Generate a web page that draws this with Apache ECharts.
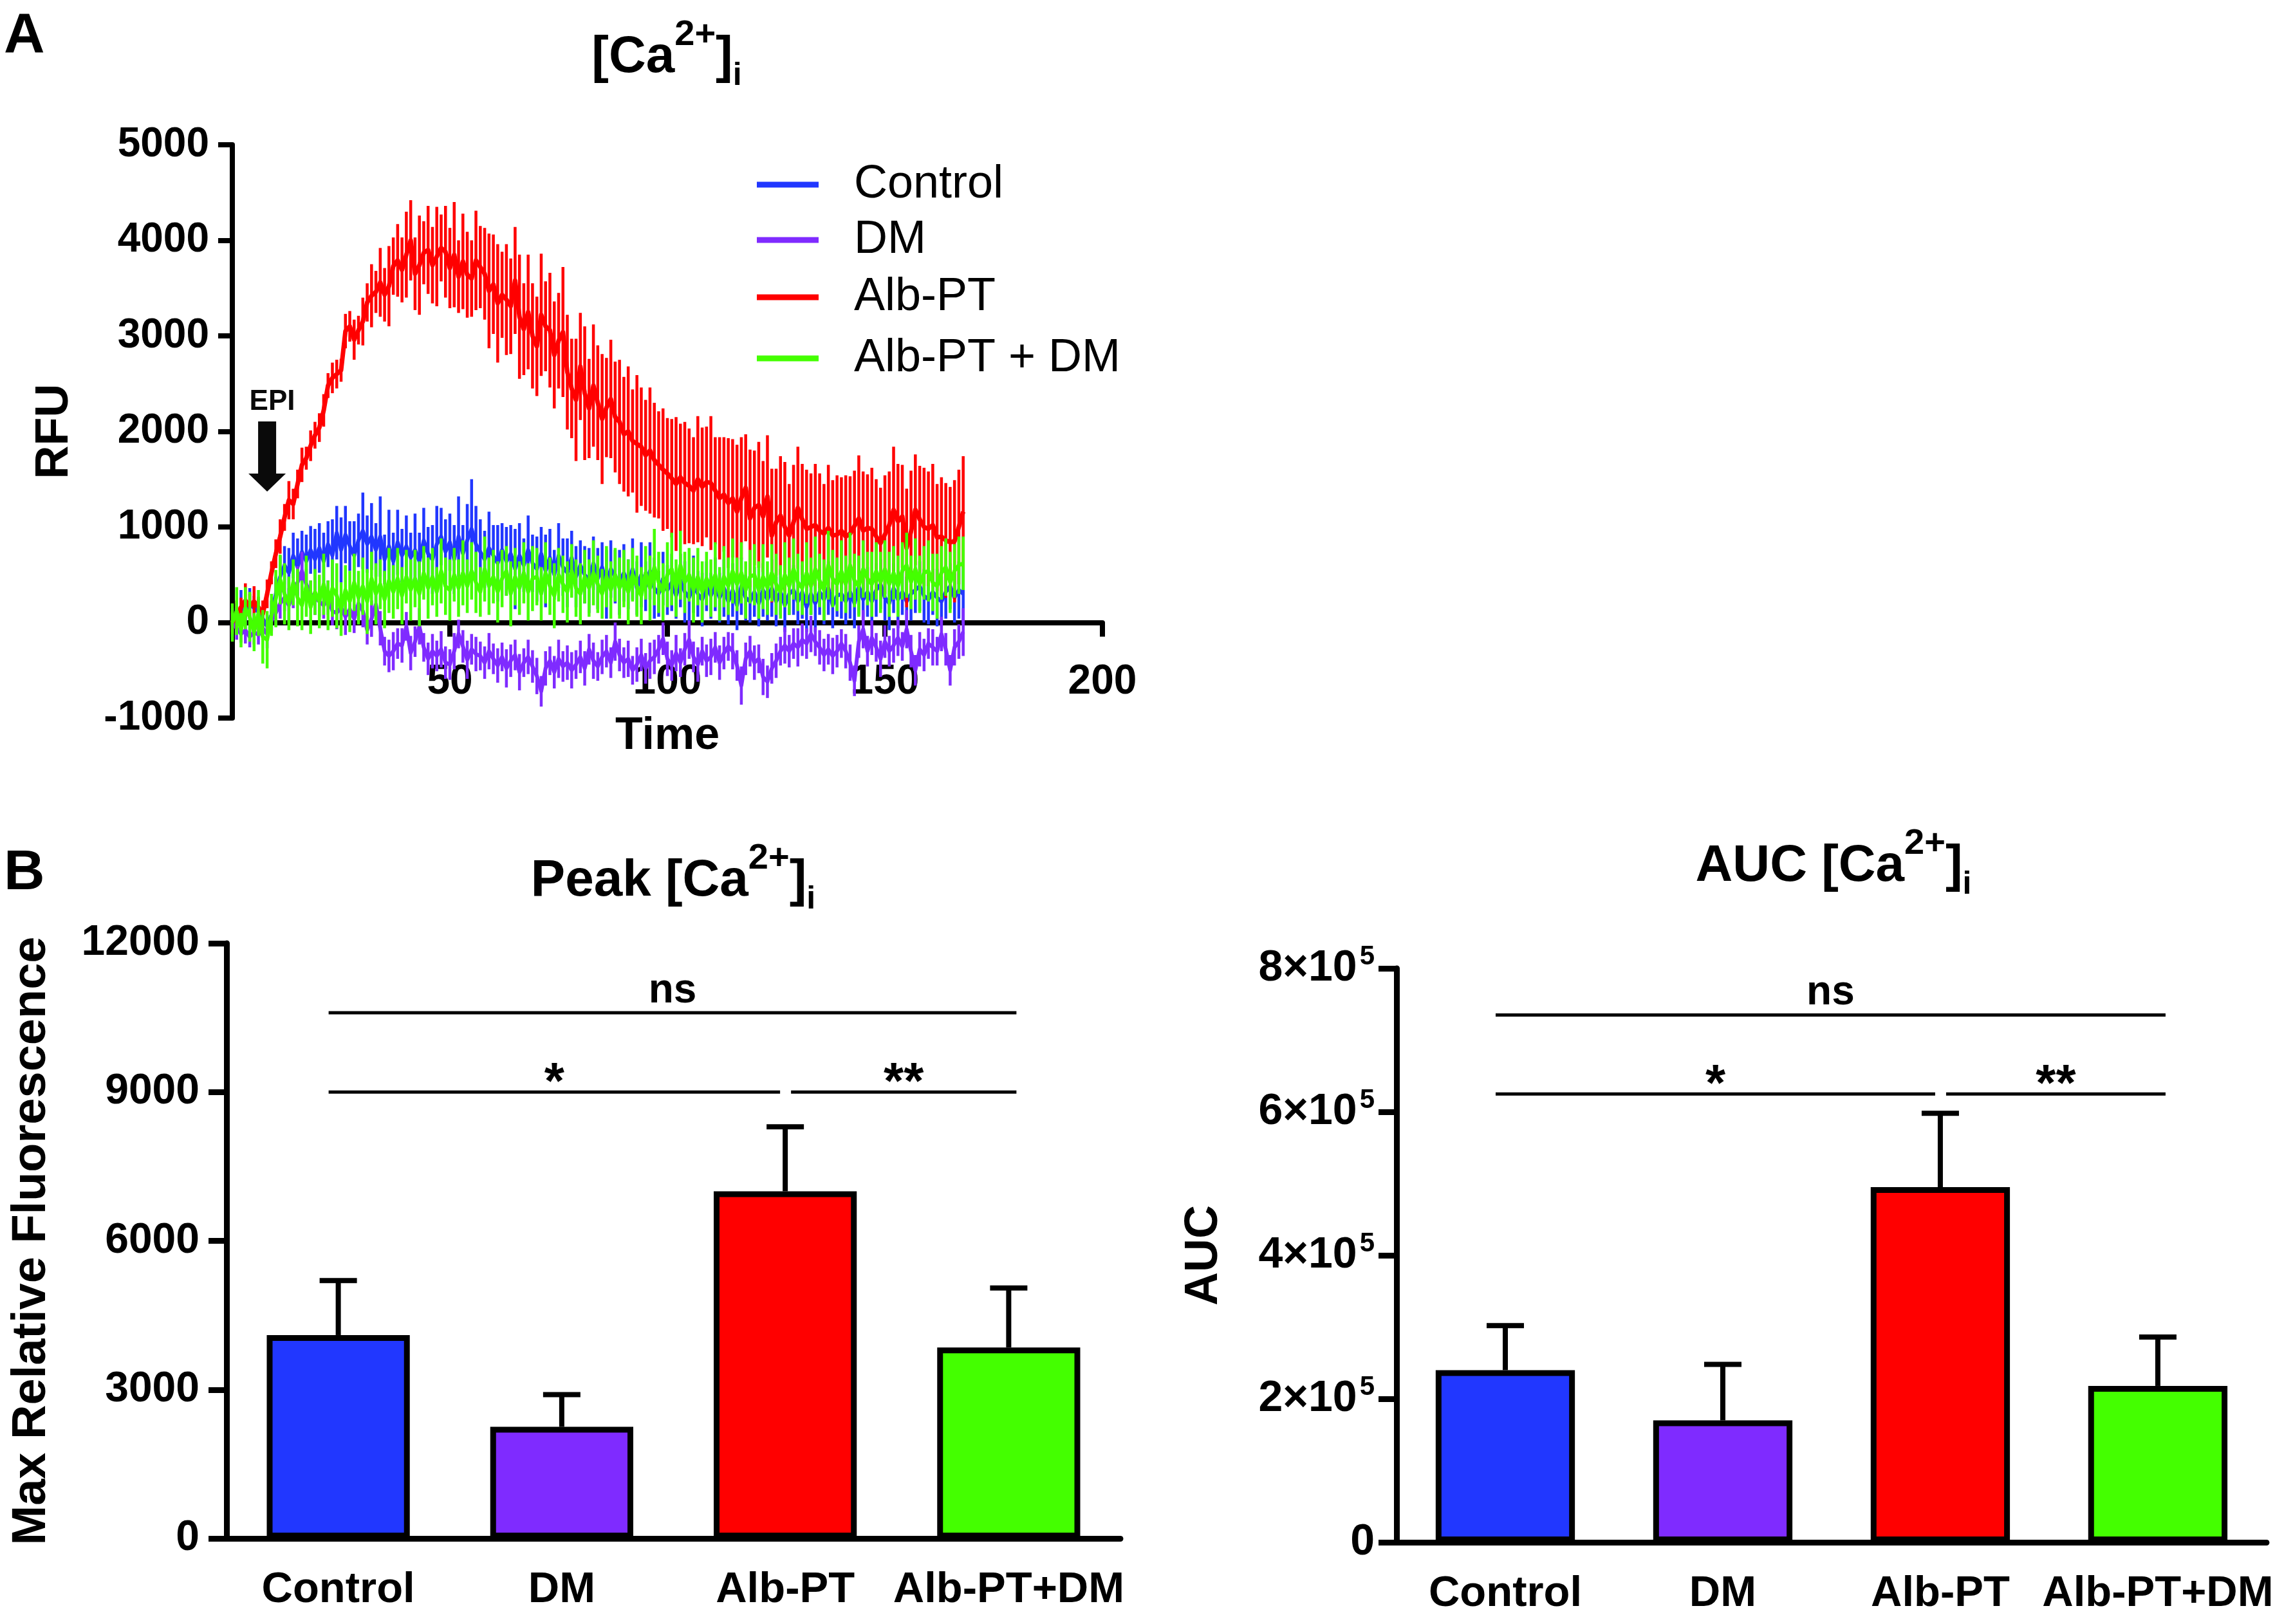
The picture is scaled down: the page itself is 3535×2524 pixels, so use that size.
<!DOCTYPE html>
<html>
<head>
<meta charset="utf-8">
<title>[Ca2+]i response</title>
<script src="https://cdn.jsdelivr.net/npm/echarts@6/dist/echarts.min.js"></script>
<style>
  html, body { margin: 0; padding: 0; background: #fff; }
  #chart { width: 3535px; height: 2524px; }
</style>
</head>
<body>
<div id="chart"></div>
<script>
// ---------- panel A: [Ca2+]i trace, one reading per second ----------
const timeStep = 1
const epiTime = 8        // EPI added here
const epiArrowLevel = 1370

const controlMean = [0, 80, 160, 120, 200, 150, 110, 40, -40, 80,
  300, 480, 600, 520, 700, 580, 740, 640, 760, 660,
  780, 640, 820, 700, 940, 760, 920, 800, 700, 860,
  960, 820, 900, 760, 900, 660, 800, 640, 840, 700,
  800, 680, 760, 640, 860, 720, 660, 820, 900, 740,
  840, 660, 900, 720, 860, 980, 820, 740, 660, 780,
  700, 620, 760, 640, 720, 560, 700, 600, 760, 620,
  560, 720, 540, 680, 500, 700, 580, 520, 680, 480,
  600, 500, 440, 620, 460, 580, 400, 560, 480, 420,
  520, 400, 560, 360, 500, 380, 540, 360, 300, 460,
  340, 420, 280, 440, 320, 260, 400, 300, 240, 380,
  280, 400, 260, 360, 220, 340, 180, 380, 260, 220,
  320, 200, 340, 240, 360, 220, 320, 180, 300, 340,
  220, 320, 160, 300, 200, 320, 240, 360, 180, 280,
  300, 220, 320, 200, 380, 240, 320, 220, 340, 400,
  260, 200, 360, 240, 320, 220, 300, 340, 380, 280,
  240, 320, 260, 220, 320, 380, 260, 340, 300]
const controlErr = [150, 120, 180, 100, 160, 130, 140, 110, 120, 150,
  180, 220, 200, 260, 240, 300, 220, 280, 250, 320,
  260, 300, 240, 380, 280, 340, 300, 260, 360, 280,
  400, 300, 350, 280, 420, 260, 380, 300, 340, 280,
  320, 260, 380, 300, 340, 280, 360, 400, 300, 340,
  300, 360, 420, 300, 380, 520, 400, 340, 300, 380,
  320, 400, 280, 360, 300, 420, 340, 280, 360, 300,
  340, 280, 380, 300, 260, 340, 300, 360, 280, 320,
  260, 300, 340, 280, 320, 260, 360, 300, 280, 340,
  300, 260, 320, 280, 340, 260, 300, 320, 240, 280,
  260, 300, 240, 280, 320, 260, 300, 240, 280, 260,
  240, 280, 260, 300, 240, 280, 260, 300, 240, 220,
  260, 240, 280, 220, 300, 260, 240, 280, 220, 260,
  240, 280, 260, 220, 300, 240, 260, 280, 240, 220,
  260, 240, 280, 260, 300, 220, 260, 240, 280, 260,
  240, 280, 260, 300, 240, 260, 280, 240, 260, 280,
  260, 240, 300, 260, 280, 240, 260, 300, 320]

const dmMean = [0, -60, -120, -80, -150, -100, -130, -60, -120, 20,
  100, 200, 260, 180, 300, 420, 540, 400, 300, 260,
  220, 180, 260, 120, 100, 160, 60, 140, 40, 200,
  120, -80, 40, 190, -60, -300, -350, -300, -220, -240,
  -40, -320, -200, -40, -260, -380, -300, -350, -280, -420,
  -440, -300, -120, -250, -390, -280, -330, -350, -420, -300,
  -380, -450, -360, -480, -400, -340, -520, -420, -360, -460,
  -560, -720, -480, -400, -520, -380, -460, -420, -500, -440,
  -360, -480, -280, -400, -460, -360, -300, -420, -200, -340,
  -420, -380, -500, -440, -340, -480, -400, -360, -280, -170,
  -380, -450, -320, -420, -280, -180, -360, -440, -300, -400,
  -360, -260, -420, -320, -250, -300, -450, -660, -380, -300,
  -420, -380, -570, -620, -480, -400, -300, -240, -300, -220,
  -260, -180, -220, -120, -200, -260, -340, -280, -350, -300,
  -220, -300, -420, -610, -200, -70, -300, -160, -260, -380,
  -200, -300, -240, -160, -250, -70, -300, -500, -280, -340,
  -220, -260, -300, -120, -280, -500, -260, -200, -100]
const dmErr = [100, 120, 90, 140, 110, 130, 100, 120, 150, 110,
  130, 160, 140, 180, 150, 170, 200, 160, 140, 180,
  160, 140, 180, 150, 170, 140, 190, 160, 150, 180,
  170, 150, 190, 160, 180, 150, 170, 200, 160, 180,
  150, 180, 160, 190, 150, 170, 180, 160, 190, 170,
  160, 190, 150, 170, 200, 160, 180, 150, 170, 190,
  160, 180, 150, 200, 170, 160, 190, 150, 180, 170,
  190, 160, 180, 150, 170, 200, 160, 180, 190, 150,
  170, 180, 160, 190, 150, 180, 170, 160, 200, 170,
  160, 190, 150, 180, 170, 160, 190, 180, 150, 170,
  180, 160, 190, 150, 170, 200, 160, 180, 150, 170,
  190, 160, 180, 170, 150, 190, 160, 200, 170, 160,
  180, 150, 190, 170, 160, 180, 150, 190, 170, 160,
  200, 170, 160, 190, 150, 180, 170, 160, 190, 170,
  150, 180, 190, 160, 170, 200, 160, 180, 150, 190,
  170, 160, 180, 190, 150, 200, 170, 160, 180, 170,
  160, 190, 150, 180, 170, 160, 190, 180, 250]

const albMean = [0, 80, 160, 230, 170, 220, 160, 90, 300, 520,
  720, 900, 1100, 1280, 1240, 1450, 1650, 1720, 1850, 1960,
  2040, 2220, 2480, 2560, 2600, 2640, 3050, 3100, 2960, 3060,
  3150, 3350, 3420, 3460, 3560, 3430, 3520, 3730, 3790, 3690,
  3850, 4000, 3650, 3740, 3870, 3900, 3740, 3830, 3920, 3880,
  3710, 3850, 3620, 3780, 3640, 3600, 3790, 3720, 3650, 3470,
  3540, 3340, 3430, 3380, 3310, 3580, 3200, 3070, 3250, 3000,
  2890, 3220, 3100, 3060, 2800, 2950, 3040, 2620, 2450, 2330,
  2680, 2400, 2240, 2480, 2300, 2130, 2250, 2340, 2150, 2100,
  1970, 2000, 1900, 1870, 1840, 1750, 1800, 1700, 1650, 1600,
  1560, 1510, 1450, 1520, 1460, 1430, 1380, 1500, 1420, 1470,
  1460, 1380, 1300, 1340, 1250, 1300, 1160, 1300, 1410, 1090,
  1200, 1230, 1110, 1320, 910, 1050, 1120, 1000, 910, 1050,
  1200, 1080, 980, 1000, 1020, 960, 930, 990, 910, 920,
  960, 900, 930, 1010, 1090, 960, 990, 980, 900, 830,
  920, 1020, 1180, 1060, 1110, 780, 950, 1180, 1080, 1000,
  980, 1020, 890, 900, 860, 840, 850, 1000, 1160]
const albErr = [120, 150, 100, 180, 130, 160, 110, 140, 150, 120,
  150, 180, 140, 200, 160, 150, 180, 120, 160, 140,
  150, 170, 130, 160, 150, 120, 180, 160, 210, 150,
  250, 200, 330, 220, 360, 280, 420, 300, 380, 340,
  450, 420, 380, 520, 330, 460, 400, 520, 350, 480,
  420, 550, 380, 500, 450, 400, 520, 430, 480, 600,
  520, 620, 450, 580, 500, 560, 650, 480, 600, 550,
  520, 640, 470, 600, 560, 500, 680, 600, 520, 640,
  560, 700, 520, 640, 600, 680, 520, 620, 580, 650,
  600, 680, 540, 720, 620, 580, 660, 600, 560, 640,
  580, 620, 700, 560, 640, 600, 560, 660, 620, 580,
  700, 560, 640, 600, 680, 620, 700, 640, 560, 720,
  600, 660, 580, 640, 700, 560, 620, 680, 540, 600,
  640, 580, 620, 560, 640, 600, 520, 660, 580, 620,
  560, 640, 600, 580, 660, 620, 560, 640, 600, 580,
  620, 560, 660, 600, 540, 620, 640, 580, 560, 620,
  600, 640, 560, 620, 600, 580, 640, 600, 580]

const albDmMean = [0, 120, -80, 150, 60, -100, 100, -150, -180, 80,
  250, 450, 300, 200, 420, 260, 180, 380, 160, 320,
  220, 400, 180, 360, 280, 140, 340, 220, 420, 260,
  380, 220, 460, 300, 400, 240, 440, 320, 460, 280,
  480, 340, 460, 300, 520, 360, 480, 320, 540, 380,
  340, 500, 360, 520, 380, 540, 420, 320, 560, 380,
  480, 320, 460, 540, 300, 480, 360, 520, 320, 460,
  480, 300, 520, 380, 280, 500, 400, 320, 540, 360,
  300, 480, 360, 520, 400, 300, 480, 340, 500, 360,
  460, 320, 500, 380, 280, 520, 360, 580, 420, 320,
  500, 560, 360, 600, 420, 500, 340, 480, 320, 460,
  360, 500, 300, 480, 380, 540, 400, 520, 340, 480,
  500, 340, 480, 360, 520, 400, 320, 500, 380, 560,
  420, 360, 520, 380, 560, 440, 340, 600, 460, 400,
  540, 400, 600, 440, 380, 560, 460, 400, 540, 420,
  560, 400, 520, 380, 540, 600, 420, 560, 400, 520,
  540, 420, 380, 520, 580, 420, 540, 600, 620]
const albDmErr = [200, 250, 180, 220, 260, 200, 240, 280, 300, 220,
  300, 260, 320, 280, 240, 300, 260, 320, 280, 240,
  280, 320, 260, 300, 340, 280, 260, 320, 300, 280,
  300, 340, 280, 320, 260, 300, 340, 280, 320, 300,
  280, 320, 300, 340, 280, 320, 300, 260, 340, 300,
  320, 280, 300, 340, 280, 300, 320, 260, 340, 300,
  280, 320, 300, 260, 340, 300, 280, 320, 300, 340,
  300, 280, 320, 300, 340, 280, 300, 320, 280, 300,
  320, 280, 300, 340, 300, 260, 320, 300, 280, 320,
  300, 340, 280, 320, 300, 280, 340, 400, 320, 300,
  340, 380, 300, 360, 320, 280, 340, 300, 320, 280,
  300, 340, 280, 320, 300, 340, 280, 320, 300, 280,
  320, 300, 340, 280, 300, 320, 280, 340, 300, 320,
  300, 280, 320, 300, 340, 280, 320, 360, 300, 280,
  320, 300, 340, 280, 320, 300, 280, 340, 300, 320,
  300, 340, 280, 320, 300, 340, 280, 320, 300, 280,
  320, 300, 340, 280, 300, 320, 280, 300, 280]

// ---------- panel B: summary bars (mean + SEM) ----------
const groups = ['Control', 'DM', 'Alb-PT', 'Alb-PT+DM']
const peakMean = [4100, 2250, 7000, 3850]
const peakErr = [1100, 650, 1300, 1200]
const aucMean = [240000, 170000, 495000, 218000]
const aucErr = [62000, 78000, 103000, 68000]
const peakSig = [
  {from: 0, to: 3, level: 10600, label: 'ns'},
  {from: 0, to: 2, level: 9000, label: '*'},
  {from: 2, to: 3, level: 9000, label: '**'}
]
const aucSig = [
  {from: 0, to: 3, level: 735000, label: 'ns'},
  {from: 0, to: 2, level: 625000, label: '*'},
  {from: 2, to: 3, level: 625000, label: '**'}
]

const FONT = '"Liberation Sans", Arial, Helvetica, sans-serif'
const BLUE = '#2137ff', PURPLE = '#7f2bff', RED = '#ff0000', GREEN = '#44ff00'
const groupColors = [BLUE, PURPLE, RED, GREEN]

const traces = [
  {name: 'Control', mean: controlMean, err: controlErr, color: BLUE, width: 6},
  {name: 'DM', mean: dmMean, err: dmErr, color: PURPLE, width: 6},
  {name: 'Alb-PT', mean: albMean, err: albErr, color: RED, width: 7},
  {name: 'Alb-PT + DM', mean: albDmMean, err: albDmErr, color: GREEN, width: 6}
]
const legendRows = [287, 373, 462, 557]

let myChart = echarts.init(document.getElementById('chart'))

function renderSpike(params, api) {
  const lo = api.coord([api.value(0), api.value(1)])
  const hi = api.coord([api.value(0), api.value(2)])
  return {
    type: 'line',
    shape: {x1: lo[0], y1: lo[1], x2: hi[0], y2: hi[1]},
    style: {stroke: api.visual('color'), lineWidth: 4.5}
  }
}

function renderBarErr(params, api) {
  const base = api.coord([api.value(0), api.value(1)])
  const top = api.coord([api.value(0), api.value(2)])
  return {
    type: 'group',
    children: [
      {type: 'line', shape: {x1: base[0], y1: base[1], x2: top[0], y2: top[1]}, style: {stroke: '#000', lineWidth: 8}},
      {type: 'line', shape: {x1: top[0] - 29, y1: top[1], x2: top[0] + 29, y2: top[1]}, style: {stroke: '#000', lineWidth: 8}}
    ]
  }
}

function renderEpi(params, api) {
  const tip = api.coord([api.value(0), api.value(1)])
  return {
    type: 'group',
    children: [
      {type: 'rect', shape: {x: tip[0] - 14, y: tip[1] - 109, width: 28, height: 83}, style: {fill: '#0a0a0a'}},
      {type: 'polygon', shape: {points: [[tip[0] - 29, tip[1] - 28], [tip[0] + 29, tip[1] - 28], [tip[0], tip[1]]]}, style: {fill: '#0a0a0a'}},
      {type: 'text', x: tip[0] + 8, y: tip[1] - 139,
        style: {text: 'EPI', fontSize: 44, fontWeight: 'bold', fontFamily: FONT, fill: '#0a0a0a', align: 'center', verticalAlign: 'middle'}}
    ]
  }
}

function sigSeries(list, axisIndex) {
  return {
    type: 'custom', xAxisIndex: axisIndex, yAxisIndex: axisIndex, z: 5,
    data: list.map(s => [s.from, s.to, s.level]),
    encode: {x: [0, 1], y: 2},
    renderItem: function (params, api) {
      const s = list[params.dataIndex]
      const a = api.coord([s.from, s.level])
      const b = api.coord([s.to, s.level])
      // where two brackets meet on one bar, leave a small gap
      const joinL = list.some(o => o !== s && o.level === s.level && o.to === s.from)
      const joinR = list.some(o => o !== s && o.level === s.level && o.from === s.to)
      const x1 = a[0] + (joinL ? 9 : -15)
      const x2 = b[0] + (joinR ? -8 : 12)
      const star = s.label.indexOf('*') >= 0
      return {
        type: 'group',
        children: [
          {type: 'line', shape: {x1: x1, y1: a[1], x2: x2, y2: a[1]}, style: {stroke: '#000', lineWidth: 5}},
          {type: 'text', x: (x1 + x2) / 2, y: a[1] - (star ? 12 : 34),
            style: {text: s.label, fontSize: star ? 80 : 64, fontWeight: 'bold', fontFamily: FONT, fill: '#000', align: 'center', verticalAlign: 'middle'}}
        ]
      }
    }
  }
}

const titleRich = {
  b: {fontSize: 80, fontWeight: 'bold', fontFamily: FONT, fill: '#000', verticalAlign: 'middle'},
  sup: {fontSize: 56, fontWeight: 'bold', fontFamily: FONT, fill: '#000', padding: [0, 0, 70, 0], verticalAlign: 'middle'},
  sub: {fontSize: 50, fontWeight: 'bold', fontFamily: FONT, fill: '#000', padding: [57, 0, 0, 0], verticalAlign: 'middle'}
}

function titleText(x, y, prefix) {
  return {
    type: 'text', x: x, y: y, z: 10,
    style: {text: '{b|' + prefix + '[Ca}{sup|2+}{b|]}{sub|i}', rich: titleRich, align: 'center', verticalAlign: 'middle'}
  }
}

function panelLetter(letter, y) {
  return {
    type: 'text', x: 6, y: y, z: 10,
    style: {text: letter, fontSize: 88, fontWeight: 'bold', fontFamily: FONT, fill: '#000', align: 'left', verticalAlign: 'middle'}
  }
}

function plain(v) { return String(v) }

const axisLineStyle = {color: '#000', width: 8}
const tickLabel = {color: '#000', fontSize: 64, fontWeight: 'bold', fontFamily: FONT, lineHeight: 64}
const nameStyle = {color: '#000', fontWeight: 'bold', fontFamily: FONT}

function barXAxis(gridIndex) {
  return {
    type: 'category', gridIndex: gridIndex, data: groups,
    axisLine: {lineStyle: {color: '#000', width: 9}},
    axisTick: {alignWithLabel: true, length: 28, lineStyle: {color: '#000', width: 9}},
    axisLabel: Object.assign({}, tickLabel, {fontSize: 67, lineHeight: 67, margin: 47, interval: 0, hideOverlap: false})
  }
}

let series = []
traces.forEach(function (tr, k) {
  series.push({
    name: tr.name + ' SEM', type: 'custom', xAxisIndex: 0, yAxisIndex: 0, z: 2 + k * 2,
    itemStyle: {color: tr.color},
    data: tr.mean.map((v, i) => [i * timeStep, v - tr.err[i], v + tr.err[i]]),
    encode: {x: 0, y: [1, 2]},
    renderItem: renderSpike
  })
  series.push({
    name: tr.name, type: 'line', xAxisIndex: 0, yAxisIndex: 0, z: 3 + k * 2,
    showSymbol: false, symbol: 'none',
    itemStyle: {color: tr.color},
    lineStyle: {color: tr.color, width: tr.width, join: 'round'},
    data: tr.mean.map((v, i) => [i * timeStep, v])
  })
})
series.push({
  type: 'custom', xAxisIndex: 0, yAxisIndex: 0, z: 12,
  data: [[epiTime, epiArrowLevel]],
  renderItem: renderEpi
})

series.push({
  type: 'bar', xAxisIndex: 1, yAxisIndex: 1, barWidth: '64%', z: 3,
  data: peakMean.map((v, i) => ({value: v, itemStyle: {color: groupColors[i]}})),
  itemStyle: {borderColor: '#000', borderWidth: 9}
})
series.push({
  type: 'custom', xAxisIndex: 1, yAxisIndex: 1, z: 2,
  data: peakMean.map((v, i) => [i, v, v + peakErr[i]]),
  encode: {x: 0, y: [1, 2]},
  renderItem: renderBarErr
})
series.push(sigSeries(peakSig, 1))

series.push({
  type: 'bar', xAxisIndex: 2, yAxisIndex: 2, barWidth: '64%', z: 3,
  data: aucMean.map((v, i) => ({value: v, itemStyle: {color: groupColors[i]}})),
  itemStyle: {borderColor: '#000', borderWidth: 9}
})
series.push({
  type: 'custom', xAxisIndex: 2, yAxisIndex: 2, z: 2,
  data: aucMean.map((v, i) => [i, v, v + aucErr[i]]),
  encode: {x: 0, y: [1, 2]},
  renderItem: renderBarErr
})
series.push(sigSeries(aucSig, 2))

let option = {
  animation: false,
  backgroundColor: '#fff',
  textStyle: {fontFamily: FONT},
  graphic: [
    panelLetter('A', 57),
    panelLetter('B', 1358),
    titleText(1036, 90, ''),
    titleText(1046, 1370, 'Peak '),
    titleText(2849, 1347, 'AUC ')
  ],
  legend: traces.map((tr, i) => ({
    data: [tr.name],
    left: 1176,
    top: legendRows[i] - 40,
    padding: 0,
    icon: 'rect',
    itemWidth: 96,
    itemHeight: 9,
    selectedMode: false,
    textStyle: {color: '#000', fontSize: 72, fontFamily: FONT, lineHeight: 80, padding: [0, 0, 0, 50]}
  })),
  grid: [
    {left: 361, top: 225, width: 1352, height: 891},
    {left: 352, top: 1466, width: 1389, height: 925},
    {left: 2170, top: 1505, width: 1356, height: 892}
  ],
  xAxis: [
    {
      type: 'value', gridIndex: 0, min: 0, max: 200, interval: 50,
      name: 'Time', nameLocation: 'middle', nameGap: -6,
      nameTextStyle: Object.assign({}, nameStyle, {fontSize: 70}),
      axisLine: {onZero: true, lineStyle: axisLineStyle},
      axisTick: {length: 22, lineStyle: {color: '#000', width: 8}},
      axisLabel: Object.assign({}, tickLabel, {margin: -88, showMinLabel: false, formatter: plain}),
      splitLine: {show: false}
    },
    barXAxis(1),
    barXAxis(2)
  ],
  yAxis: [
    {
      type: 'value', gridIndex: 0, min: -1000, max: 5000, interval: 1000,
      name: 'RFU', nameLocation: 'middle', nameRotate: 90, nameGap: 240,
      nameTextStyle: Object.assign({}, nameStyle, {fontSize: 72}),
      axisLine: {show: true, lineStyle: axisLineStyle},
      axisTick: {show: true, length: 22, lineStyle: {color: '#000', width: 8}},
      axisLabel: Object.assign({}, tickLabel, {margin: 36, formatter: plain}),
      splitLine: {show: false}
    },
    {
      type: 'value', gridIndex: 1, min: 0, max: 12000, interval: 3000,
      name: 'Max Relative Fluorescence', nameLocation: 'middle', nameRotate: 90, nameGap: 265,
      nameTextStyle: Object.assign({}, nameStyle, {fontSize: 74}),
      axisLine: {show: true, lineStyle: {color: '#000', width: 9}},
      axisTick: {show: true, length: 28, lineStyle: {color: '#000', width: 9}},
      axisLabel: Object.assign({}, tickLabel, {fontSize: 66, lineHeight: 66, margin: 42, formatter: plain}),
      splitLine: {show: false}
    },
    {
      type: 'value', gridIndex: 2, min: 0, max: 800000, interval: 200000,
      name: 'AUC', nameLocation: 'middle', nameRotate: 90, nameGap: 263,
      nameTextStyle: Object.assign({}, nameStyle, {fontSize: 72}),
      axisLine: {show: true, lineStyle: {color: '#000', width: 9}},
      axisTick: {show: true, length: 28, lineStyle: {color: '#000', width: 9}},
      axisLabel: Object.assign({}, tickLabel, {
        fontSize: 68, lineHeight: 68, margin: 34,
        formatter: function (v) {
          return v === 0 ? '0' : '{n|' + (v / 100000) + '×10}{s|5}'
        },
        rich: {
          n: {fontSize: 68, fontWeight: 'bold', fontFamily: FONT, color: '#000'},
          s: {fontSize: 42, fontWeight: 'bold', fontFamily: FONT, color: '#000', padding: [0, 0, 36, 4]}
        }
      }),
      splitLine: {show: false}
    }
  ],
  series: series
}

myChart.setOption(option)
</script>
</body>
</html>
